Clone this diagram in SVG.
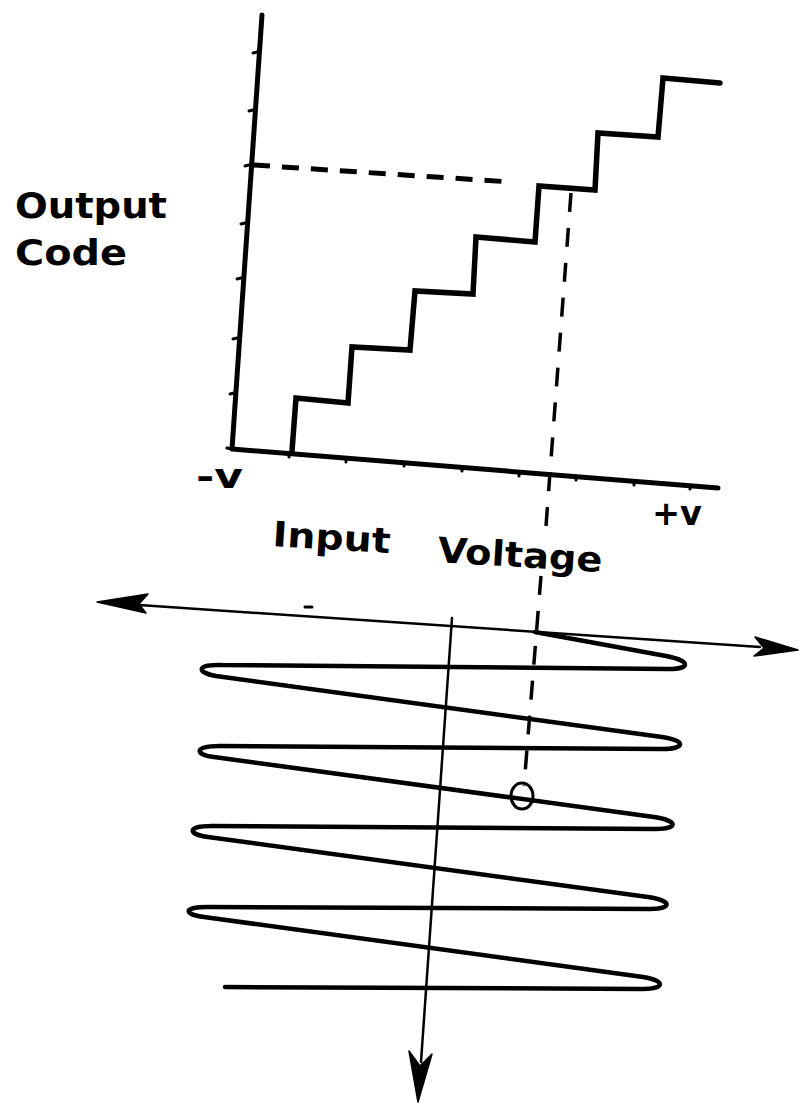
<svg xmlns="http://www.w3.org/2000/svg" width="799" height="1106" viewBox="0 0 799 1106">
<style>
.ax{fill:none;stroke:#000;stroke-width:5;stroke-linecap:round;stroke-linejoin:round}
.tk{fill:none;stroke:#000;stroke-width:3;stroke-linecap:round}
.st{fill:none;stroke:#000;stroke-width:5.5;stroke-linejoin:miter;stroke-linecap:round}
.dh{fill:none;stroke:#000;stroke-width:5;stroke-dasharray:17 12}
.dv{fill:none;stroke:#000;stroke-width:3.5;stroke-dasharray:19 16}
.sp{fill:none;stroke:#000;stroke-width:4.5;stroke-linejoin:round;stroke-linecap:round}
.ln{fill:none;stroke:#000;stroke-width:2.5;stroke-linecap:round}
.ah{fill:#000;stroke:#000;stroke-width:1.5;stroke-linejoin:round}
.lb{font-family:"DejaVu Sans","Liberation Sans",sans-serif;font-weight:bold;fill:#000}
</style>
<rect width="799" height="1106" fill="#fff"/>
<g id="axes">
<path class="ax" d="M262,15 L232,449 L718,488"/>
<path class="tk" d="M257,52 L253,53 M253,110 L249,111 M249,165 L245,166 M245,223 L241,224 M241,278 L237,279 M237,338 L233,339 M234,393 L230,394 M232,449 L227,448"/>
<path class="tk" d="M289,453 L289,457 M346,458 L346,462 M404,462 L404,466 M462,467 L462,471 M519,472 L519,476 M576,476 L576,480 M634,481 L634,485 M690,486 L690,489"/>
</g>
<g id="staircase">
<path class="st" d="M292,451 L296,398 L348,403 L352,347 L410,350 L415,291 L473,294 L476,237 L535,242 L539,186 L595,190 L598,133 L658,137 L663,78 L720,83"/>
</g>
<g id="labels">
<text class="lb" x="15" y="218" font-size="35" textLength="152" lengthAdjust="spacingAndGlyphs">Output</text>
<text class="lb" x="15" y="265" font-size="35" textLength="112" lengthAdjust="spacingAndGlyphs">Code</text>
<text class="lb" x="196" y="488" font-size="33" textLength="47" lengthAdjust="spacingAndGlyphs">-v</text>
<text class="lb" x="652" y="525" font-size="33" textLength="50" lengthAdjust="spacingAndGlyphs">+v</text>
<text class="lb" x="272" y="546" font-size="35" textLength="118" lengthAdjust="spacingAndGlyphs" transform="rotate(3.5 272 546)">Input</text>
<text class="lb" x="437" y="562" font-size="35" textLength="165" lengthAdjust="spacingAndGlyphs" transform="rotate(3.5 437 562)">Voltage</text>
</g>
<g id="connectors">
<path class="dh" d="M253,165 L511,182"/>
<path class="dv" d="M571,193 L546,526"/>
<path class="dv" d="M541,576 L524,786"/>
<path class="ln" d="M110,603 L760,647" stroke-width="4"/>
<polygon class="ah" points="97,602 148,594 139,604 146,613"/>
<polygon class="ah" points="798,650 755,637 764,648 754,656"/>
<path class="ln" d="M452,618 L421,1062"/>
<polygon class="ah" points="418,1102 409,1051 420,1066 432,1054"/>
<path class="tk" d="M305,607 L312,607" stroke-width="2"/>
</g>
<g id="spiral">
<path class="sp" d="M535,632 L666,656 C692,661 690,669 668,669 L222,665 C194,664 198,673 216,676 L662,737 C688,741 684,749 662,749 L220,746 C192,746 196,755 214,757 L654,817 C680,821 677,829 656,829 L212,826 C184,826 190,835 208,837 L648,897 C674,901 671,909 650,909 L208,907 C180,907 186,915 204,917 L643,977 C667,981 664,989 643,989 L225,987"/>
<ellipse cx="522" cy="796" rx="11" ry="13" fill="none" stroke="#000" stroke-width="3"/>
</g>
</svg>
